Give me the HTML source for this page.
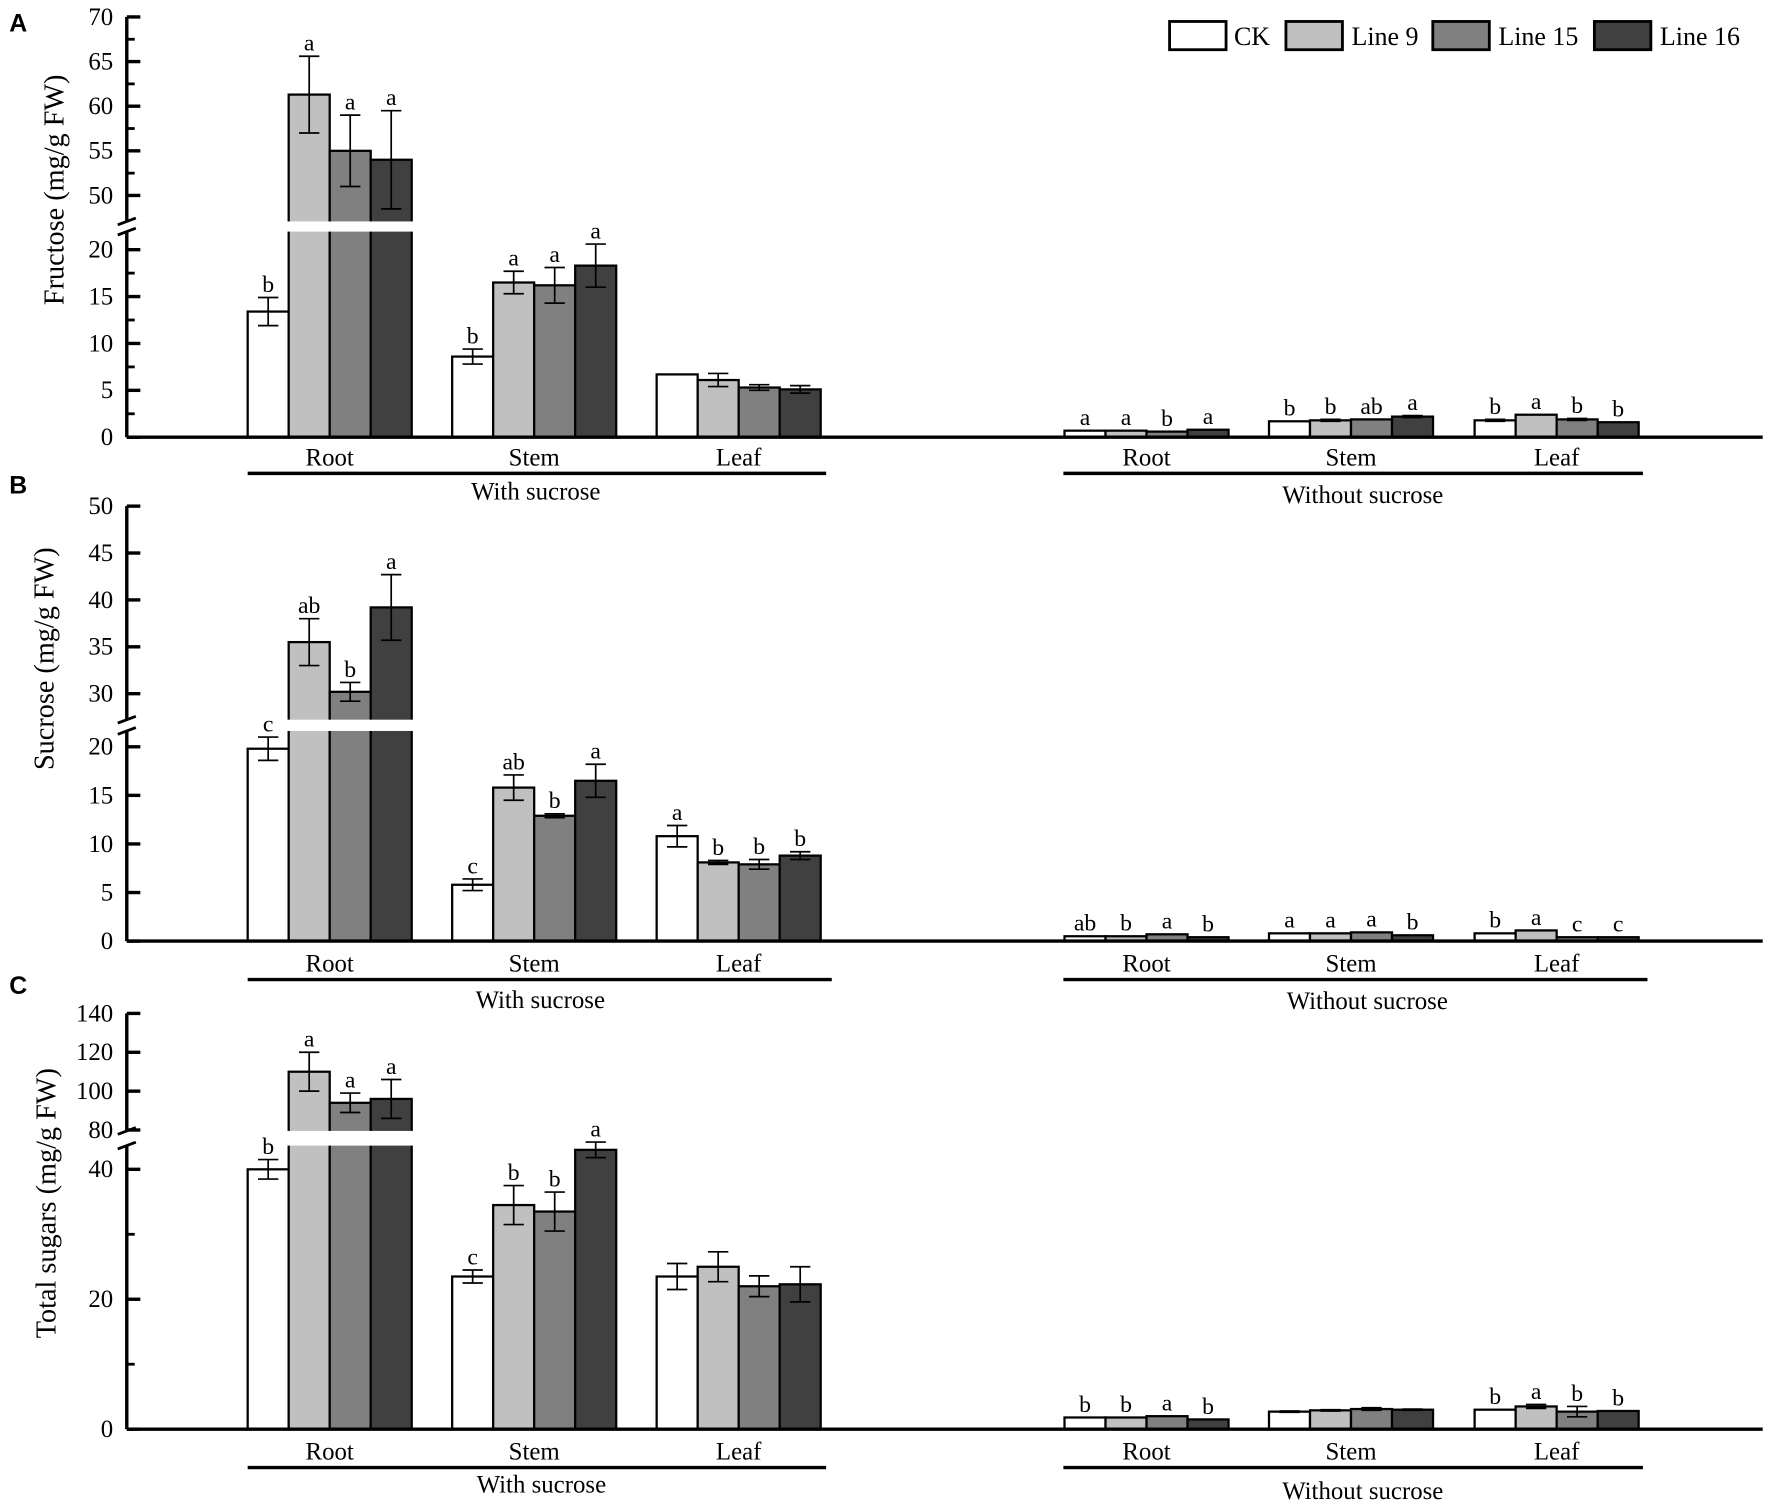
<!DOCTYPE html>
<html><head><meta charset="utf-8"><style>html,body{margin:0;padding:0;background:#fff}svg{display:block}text{font-family:"Liberation Serif",serif;fill:#000}</style></head>
<body>
<svg id="chart" width="1772" height="1506" viewBox="0 0 1568 1333" xmlns="http://www.w3.org/2000/svg"></svg>
<script>
const seriesNames=["CK","Line 9","Line 15","Line 16"];
const categories=["Root","Stem","Leaf","Root","Stem","Leaf"];
const fruVals=[[13.4,61.3,55,54],[8.6,16.5,16.2,18.3],[6.7,6.1,5.3,5.1],[0.7,0.7,0.6,0.8],[1.7,1.8,1.9,2.2],[1.8,2.4,1.9,1.6]];
const fruErr=[[1.5,4.3,4,5.5],[0.8,1.2,1.9,2.3],[0,0.7,0.3,0.4],[0,0,0,0],[0,0.1,0,0.1],[0.1,0,0.1,0]];
const fruLet=[["b","a","a","a"],["b","a","a","a"],["","","",""],["a","a","b","a"],["b","b","ab","a"],["b","a","b","b"]];
const sucVals=[[19.8,35.5,30.2,39.2],[5.8,15.8,12.9,16.5],[10.8,8.1,7.9,8.8],[0.5,0.5,0.7,0.4],[0.8,0.8,0.9,0.6],[0.8,1.1,0.4,0.4]];
const sucErr=[[1.2,2.5,1,3.5],[0.6,1.3,0.2,1.7],[1.1,0.2,0.5,0.4],[0,0,0,0],[0,0,0,0],[0,0,0,0]];
const sucLet=[["c","ab","b","a"],["c","ab","b","a"],["a","b","b","b"],["ab","b","a","b"],["a","a","a","b"],["b","a","c","c"]];
const totVals=[[40,110,94,96],[23.5,34.5,33.5,43],[23.5,25,22,22.3],[1.8,1.8,2,1.5],[2.7,2.9,3.1,3.0],[3.0,3.5,2.7,2.8]];
const totErr=[[1.5,10,5,10],[1,3,3,1.2],[2,2.3,1.6,2.7],[0,0,0,0],[0.1,0.1,0.2,0.1],[0,0.3,0.8,0]];
const totLet=[["b","a","a","a"],["c","b","b","a"],["","","",""],["b","b","a","b"],["","","",""],["b","a","b","b"]];
const fills=["#ffffff","#c0c0c0","#808080","#404040"];
const svg=document.getElementById('chart');
const NS="http://www.w3.org/2000/svg";
function mk(tag,attrs,parent){const e=document.createElementNS(NS,tag);for(const k in attrs)e.setAttribute(k,attrs[k]);(parent||svg).appendChild(e);return e;}
function txt(s,x,y,size,anchor,parent){const t=mk('text',{x:x,y:y,'font-size':size,'text-anchor':anchor||'middle'},parent);t.textContent=s;return t;}
const groupStart=[219,400,581,942,1123,1305];const bw=36.3;
function panel(p){
  const g=mk('g',{});
  
  
  function y(v){return v<=p.lowMax? p.y0-v*p.kLow : p.yTop+(p.topVal-v)*p.kUp;}
  for(let c=0;c<6;c++){
    for(let s=0;s<4;s++){
      const v=p.vals[c][s],e=p.err[c][s];const x=groupStart[c]+s*bw;
      const r=mk('rect',{x:x,y:y(v),width:bw,height:p.y0-y(v),fill:fills[s],stroke:'#000','stroke-width':2},g);
      
      
      if(v>p.lowMax){mk('rect',{x:x-2,y:p.brTop,width:bw+4,height:p.brBot-p.brTop,fill:'#fff'},g);}
      let top=y(v);
      if(e>0){const cx=x+bw/2,y1=y(v+e),y2=y(v-e);top=y1;
        mk('line',{x1:cx,x2:cx,y1:y1,y2:y2,stroke:'#000','stroke-width':1.5},g);
        mk('line',{x1:cx-9,x2:cx+9,y1:y1,y2:y1,stroke:'#000','stroke-width':1.5},g);
        mk('line',{x1:cx-9,x2:cx+9,y1:y2,y2:y2,stroke:'#000','stroke-width':1.5},g);}
      const l=p.lets[c][s];if(l)txt(l,x+bw/2,top-5,21,'middle',g);
    }
  }
  mk('line',{x1:112,x2:1560,y1:p.y0,y2:p.y0,stroke:'#000','stroke-width':3},g);
  mk('line',{x1:112,x2:112,y1:p.axTop,y2:p.brTop,stroke:'#000','stroke-width':3},g);
  mk('line',{x1:112,x2:112,y1:p.brBot,y2:p.y0,stroke:'#000','stroke-width':3},g);
  mk('line',{x1:104,x2:120,y1:p.brTop+3,y2:p.brTop-3,stroke:'#000','stroke-width':2.5},g);
  mk('line',{x1:104,x2:120,y1:p.brBot+3,y2:p.brBot-3,stroke:'#000','stroke-width':2.5},g);
  p.ticks.forEach(t=>{const yy=y(t);mk('line',{x1:112,x2:124,y1:yy,y2:yy,stroke:'#000','stroke-width':3},g);txt(String(t),100,yy+7,22,'end',g);});
  p.minor.forEach(t=>{const yy=y(t);mk('line',{x1:112,x2:119,y1:yy,y2:yy,stroke:'#000','stroke-width':2.5},g);});
  for(let c=0;c<6;c++)txt(categories[c],groupStart[c]+2*bw,p.catY,22,'middle',g);
  mk('line',{x1:219,x2:p.ul1,y1:p.ulY,y2:p.ulY,stroke:'#000','stroke-width':3},g);
  mk('line',{x1:941,x2:p.ul2,y1:p.ulY,y2:p.ulY,stroke:'#000','stroke-width':3},g);
  txt('With sucrose',p.gx1,p.gY,22,'middle',g);
  txt('Without sucrose',p.gx2,p.gY2,22,'middle',g);
  const at=txt(p.title,0,0,25,'middle',g);at.setAttribute('transform','translate('+p.tx+','+p.ty+') rotate(-90)');
  
  const pl=mk('text',{x:8,y:p.ly,'font-size':22,'font-weight':'bold',style:'font-family:"Liberation Sans",sans-serif'},g);pl.textContent=p.letter;
}
panel({name:'panel-a-fructose',vals:fruVals,err:fruErr,lets:fruLet,y0:387,kLow:8.3,lowMax:22,yTop:15,topVal:70,kUp:7.9,brTop:196,brBot:205,axTop:15,
  ticks:[0,5,10,15,20,50,55,60,65,70],minor:[2.5,7.5,12.5,17.5,52.5,57.5,62.5,67.5],catY:412,ulY:419,ul1:731,ul2:1454,gx1:474,gx2:1206,gY:442,gY2:445,title:'Fructose (mg/g FW)',tx:56,ty:168,letter:'A',ly:28});
panel({name:'panel-b-sucrose',vals:sucVals,err:sucErr,lets:sucLet,y0:833,kLow:8.6,lowMax:21.5,yTop:448,topVal:50,kUp:8.3,brTop:637,brBot:647,axTop:448,
  ticks:[0,5,10,15,20,30,35,40,45,50],minor:[],catY:860,ulY:867,ul1:736,ul2:1458,gx1:478,gx2:1210,gY:892,gY2:893,title:'Sucrose (mg/g FW)',tx:47,ty:583,letter:'B',ly:437});
panel({name:'panel-c-total-sugars',vals:totVals,err:totErr,lets:totLet,y0:1265,kLow:5.75,lowMax:46,yTop:897,topVal:140,kUp:1.72,brTop:1001,brBot:1014,axTop:897,
  ticks:[0,20,40,80,100,120,140],minor:[10,30],catY:1292,ulY:1299,ul1:731,ul2:1454,gx1:479,gx2:1206,gY:1321,gY2:1327,title:'Total sugars (mg/g FW)',tx:49,ty:1065,letter:'C',ly:880});
const legX=[1035,1138,1268,1411],legTX=[1092,1196,1326,1469];
for(let s=0;s<4;s++){
  const r=mk('rect',{x:legX[s],y:19,width:50,height:25,fill:fills[s],stroke:'#000','stroke-width':2.5});
  
  
  const t=txt(seriesNames[s],legTX[s],40,23,'start');
  
  
}
</script>
</body></html>
